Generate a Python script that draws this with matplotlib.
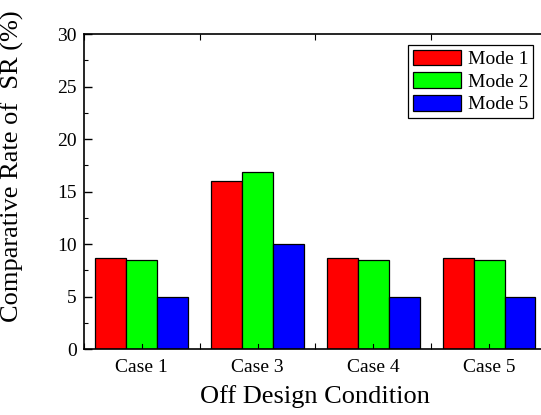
import numpy as np
import matplotlib.pyplot as plt
from matplotlib.ticker import MultipleLocator

# data
cases = ['Case 1', 'Case 3', 'Case 4', 'Case 5']
mode1 = [8.7, 16.0, 8.7, 8.7]
mode2 = [8.45, 16.9, 8.45, 8.45]
mode5 = [5.0, 10.0, 5.0, 5.0]
series = [('Mode 1', mode1, '#ff0000'), ('Mode 2', mode2, '#00ff00'), ('Mode 5', mode5, '#0000ff')]

plt.rcParams['font.family'] = ['Liberation Serif', 'DejaVu Serif']

fig = plt.figure(figsize=(5.41, 4.15), dpi=100)
ax = fig.add_axes([0.155, 0.159, 0.856, 0.759])

x = np.arange(len(cases))
w = 0.8 / 3
for i, (name, vals, col) in enumerate(series):
    ax.bar(x + (i - 1) * w, vals, width=w, color=col, edgecolor='black',
           linewidth=0.9, label=name)

ax.set_xlim(-0.5, 3.5)
ax.set_ylim(0, 30)
ax.set_xticks(x)
ax.set_xticklabels(cases)
ax.xaxis.set_minor_locator(MultipleLocator(0.5))
ax.yaxis.set_major_locator(MultipleLocator(5))
ax.yaxis.set_minor_locator(MultipleLocator(2.5))
ax.tick_params(which='both', direction='in', top=True, right=False, labelsize=14)
ax.tick_params(which='major', length=6, width=1)
ax.tick_params(which='minor', length=3, width=0.8)
ax.tick_params(axis='x', which='major', length=0, pad=7)
ax.tick_params(axis='x', which='minor', length=4)
ax.tick_params(axis='y', which='major', pad=5)
# ticks at group centres as well
for xi in x:
    ax.plot([xi, xi], [0, 0.45], color='black', lw=0.8)
for s in ax.spines.values():
    s.set_linewidth(1.2)

ax.set_xlabel('Off Design Condition', fontsize=19, labelpad=7)
ax.set_ylabel('Comparative Rate of  SR (%)', fontsize=19, labelpad=8)
ax.yaxis.set_label_coords(-0.13, 0.58)

leg = ax.legend(loc='upper right', bbox_to_anchor=(0.97, 0.966), fontsize=14,
                fancybox=False, edgecolor='black', framealpha=1,
                handlelength=2.45, handleheight=0.88, handletextpad=0.36,
                borderpad=0.25, labelspacing=0.2, borderaxespad=0)
leg.get_frame().set_linewidth(0.9)

fig.savefig('out.png', dpi=100)
